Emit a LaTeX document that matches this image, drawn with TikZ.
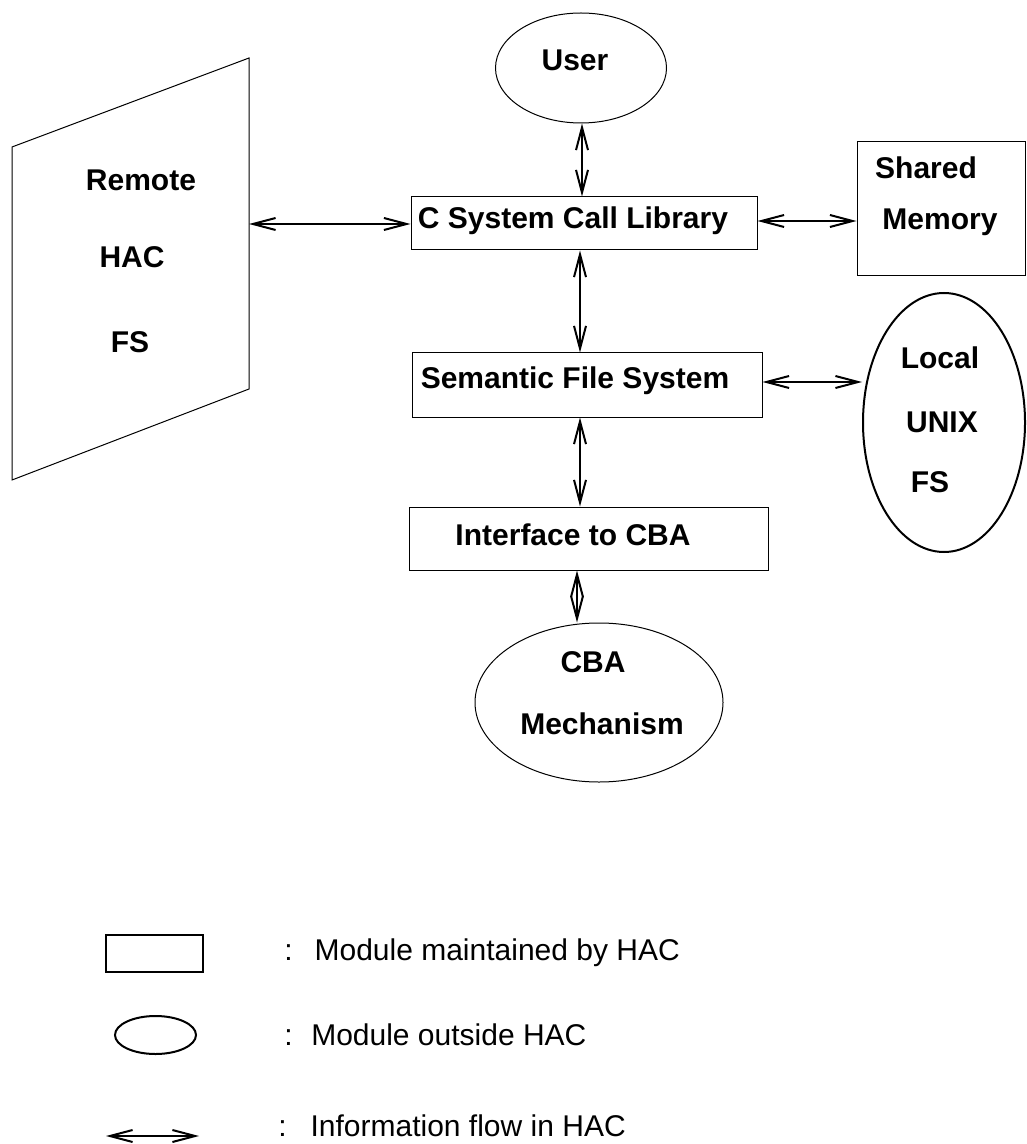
\documentclass[tikz,border=0pt]{standalone}
\usepackage{fontspec}
\setmainfont{Liberation Sans}
\usetikzlibrary{arrows.meta,shapes.geometric}
\begin{document}
\begin{tikzpicture}[x=0.75pt,y=-0.75pt,
  lbl/.style={font=\fontsize{22.5}{27}\selectfont\bfseries, inner sep=0pt},
  legtxt/.style={font=\fontsize{22.5}{27}\selectfont, inner sep=0pt, anchor=west},
  box/.style={draw, line width=0.75pt, rectangle, inner sep=0pt},
  oval/.style={draw, line width=0.75pt, ellipse, inner sep=0pt},
  tip/.tip={Straight Barb[length=17pt,width=9pt]},
  flow/.style={line width=1.5pt, tip-tip}]
\useasboundingbox (0,0) rectangle (1026,1144);

% Remote HAC FS parallelogram
\coordinate (rTL) at (12,147);
\coordinate (rTR) at (249,58);
\coordinate (rBR) at (249,389);
\coordinate (rBL) at (12,480);
\draw[line width=0.75pt] (rTL) -- (rTR) -- (rBR) -- (rBL) -- cycle;
\coordinate (remR) at (249,224);
\node[lbl] (remote) at (141,180) {Remote};
\node[lbl] (rhac) at (132,257) {HAC};
\node[lbl] (rfs) at (130,342) {FS};

% User
\node[oval, minimum width=128.25pt, minimum height=82.5pt] (user) at (581,68) {};
\node[lbl] (usertxt) at (575,60) {User};

% C System Call Library
\node[box, minimum width=259.5pt, minimum height=39.75pt] (cscl) at (584,223.5) {};
\node[lbl] (cscltxt) at (573,221) {C System Call Library};

% Shared Memory
\node[box, minimum width=126pt, minimum height=100.5pt] (shm) at (941,209) {};
\node[lbl] (shmtxt1) at (926,168) {Shared};
\node[lbl] (shmtxt2) at (940,222) {Memory};

% Semantic File System
\node[box, minimum width=262.5pt, minimum height=48pt] (sem) at (587,385) {};
\node[lbl] (semtxt) at (575,381) {Semantic File System};

% Local UNIX FS
\node[oval, line width=1.5pt, minimum width=121.5pt, minimum height=194.25pt] (loc) at (944,422.5) {};
\node[lbl] (loctxt1) at (940,358) {Local};
\node[lbl] (loctxt2) at (942,422) {UNIX};
\node[lbl] (loctxt3) at (930,482) {FS};

% Interface to CBA
\node[box, minimum width=269.25pt, minimum height=47.25pt] (ifc) at (588.5,538.5) {};
\node[lbl] (ifctxt) at (573,535) {Interface to CBA};

% CBA Mechanism
\node[oval, minimum width=186pt, minimum height=119.25pt] (cba) at (599,702.5) {};
\node[lbl] (cbatxt1) at (593,662) {CBA};
\node[lbl] (cbatxt2) at (602,724) {Mechanism};

% connectors
\draw[flow] (remR) -- (remR -| cscl.west);
\draw[flow] (user.south -| 582,0) -- (cscl.north -| 582,0);
\draw[flow] (cscl.east |- 0,221) -- (shm.west |- 0,221);
\draw[flow] (cscl.south -| 580,0) -- (sem.north -| 580,0);
\draw[flow] (sem.east |- 0,382) -- (loc.west |- 0,382);
\draw[flow] (sem.south -| 580,0) -- (ifc.north -| 580,0);
\draw[flow] (ifc.south -| 577,0) -- (cba.north -| 577,0);

% legend
\node[box, line width=1.5pt, minimum width=72.75pt, minimum height=27.75pt] (legbox) at (154.5,953.5) {};
\node[legtxt] (legt1) at (284,953) {:\hspace{16.5pt}Module maintained by HAC};
\node[oval, line width=1.5pt, minimum width=60.75pt, minimum height=28.5pt] (legoval) at (155.5,1035) {};
\node[legtxt] (legt2) at (284,1035) {:\hspace{14pt}Module outside HAC};
\coordinate (legA) at (106,1136);
\coordinate (legB) at (199,1136);
\draw[flow] (legA) -- (legB);
\node[legtxt] (legt3) at (278,1126) {:\hspace{18pt}Information flow in HAC};
\end{tikzpicture}
\end{document}
